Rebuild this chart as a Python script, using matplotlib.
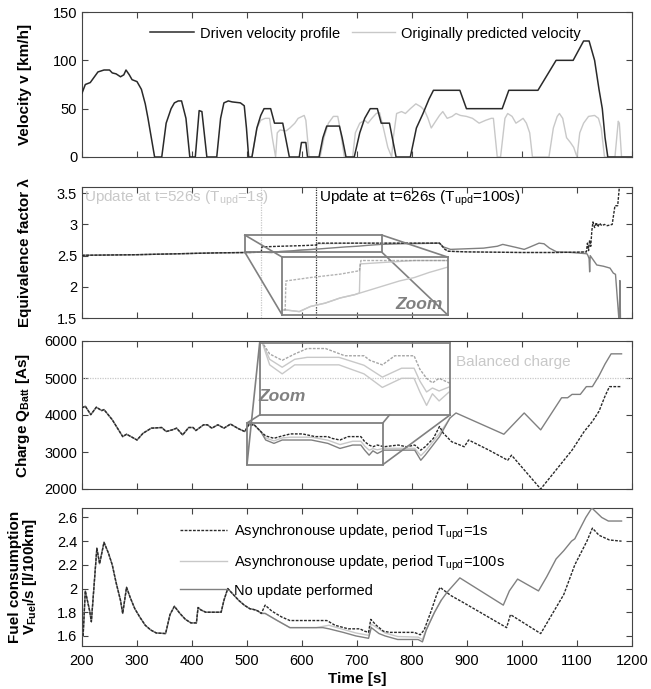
import matplotlib
matplotlib.use("Agg")
import matplotlib.pyplot as plt
import numpy as np
from matplotlib.patches import Rectangle

plt.rcParams['font.family'] = ['Liberation Sans', 'DejaVu Sans']
plt.rcParams['mathtext.fontset'] = 'custom'
plt.rcParams['mathtext.rm'] = 'Liberation Sans'
plt.rcParams['mathtext.bf'] = 'Liberation Sans:bold'

# ---- velocity panel ----
drv_t = [200, 206, 215, 229, 240, 250, 255, 262, 270, 276, 280, 286, 291, 300, 308, 315, 320, 326, 332,
         345, 353, 362, 368, 375, 381, 389, 396,
         406, 413, 418, 427,
         445, 452, 458, 466, 473, 488, 495, 499, 503,
         509, 518, 525, 531, 543, 550, 565, 577,
         595, 599, 607, 610,
         631, 638, 645, 668, 673, 680,
         695, 705, 714, 724, 737, 744, 759, 771,
         797, 808, 820, 831, 839, 887, 899, 964, 976, 1029, 1062, 1093, 1112, 1122, 1132, 1140, 1146, 1151, 1156, 1200]
drv_v = [66, 75, 77, 88, 90, 90, 87, 86, 83, 85, 90, 85, 80, 78, 70, 55, 40, 20, 0,
         0, 35, 50, 56, 58, 58, 40, 0,
         0, 48, 47, 0,
         0, 40, 56, 58, 57, 56, 53, 30, 0,
         0, 30, 43, 50, 50, 35, 35, 0,
         0, 15, 15, 0,
         0, 20, 32, 32, 20, 0,
         0, 25, 40, 50, 50, 35, 35, 0,
         0, 30, 45, 60, 69, 69, 50, 50, 69, 69, 100, 100, 120, 120, 100, 70, 50, 20, 0, 0]

pred_t = [509, 518, 525, 533, 541, 546, 552, 555, 560, 571, 578, 587, 593, 604, 607, 613,
          633, 640, 648, 657, 665, 669, 677,
          692, 697, 705, 714, 720, 727, 735, 741, 748, 756, 763,
          766, 772, 781, 788, 797, 807, 816, 823, 829, 835, 843, 850, 856, 864, 873, 880, 888,
          899, 910, 922, 934, 944, 948, 955, 961, 969, 974, 982, 989, 997, 1002, 1008, 1014, 1019,
          1049, 1057, 1064, 1068, 1074, 1081, 1088, 1094, 1100, 1105, 1112, 1121, 1132, 1139, 1144, 1150,
          1169, 1175, 1177, 1181, 1200]
pred_v = [0, 30, 38, 40, 40, 20, 0, 25, 28, 27, 30, 35, 40, 43, 38, 0,
          0, 20, 35, 42, 42, 30, 0,
          0, 25, 35, 38, 35, 40, 45, 46, 30, 10, 0,
          20, 45, 47, 45, 50, 55, 52, 48, 40, 30, 37, 43, 47, 40, 42, 45, 43,
          42, 40, 35, 38, 40, 40, 0, 0, 40, 45, 42, 35, 38, 40, 35, 25, 0,
          0, 30, 42, 45, 40, 20, 15, 10, 0, 25, 35, 42, 43, 40, 30, 0,
          0, 37, 35, 0, 0]

# ---- equivalence factor panel ----
lam_com_t = [200, 250, 300, 350, 400, 450, 500, 526]
lam_com = [2.505, 2.51, 2.515, 2.525, 2.535, 2.545, 2.55, 2.555]
lam_no_t = [545, 560, 580, 600, 620, 650, 680, 700, 720, 744, 780, 820, 850, 857, 870, 900, 930, 955, 965,
            975, 990, 1004, 1015, 1031, 1040, 1050, 1063, 1090, 1118, 1120, 1122, 1123, 1124, 1136, 1148,
            1160, 1166, 1170, 1176, 1177, 1178, 1179]
lam_no = [2.55, 2.565, 2.575, 2.59, 2.6, 2.62, 2.64, 2.65, 2.665, 2.68, 2.69, 2.695, 2.70, 2.64, 2.60, 2.61,
          2.62, 2.65, 2.68, 2.66, 2.63, 2.60, 2.64, 2.70, 2.69, 2.62, 2.56, 2.55, 2.53, 2.50, 2.45, 2.24, 2.50,
          2.35, 2.33, 2.30, 2.22, 2.20, 1.50, 1.50, 2.10, 1.50]
lam_1s_t = [527, 560, 600, 626, 628, 700, 800, 850, 860, 866, 900, 1000, 1060, 1100, 1117, 1119, 1121, 1123,
            1125, 1127, 1129, 1132, 1135, 1138, 1141, 1145, 1150, 1155, 1164, 1169, 1174, 1177]
lam_1s = [2.64, 2.65, 2.66, 2.67, 2.70, 2.70, 2.70, 2.70, 2.60, 2.57, 2.56, 2.55, 2.55, 2.555, 2.56, 2.70,
          2.58, 2.75, 2.65, 2.90, 3.04, 2.95, 3.03, 2.96, 3.02, 2.98, 3.0, 2.98, 3.0, 3.30, 3.30, 3.6]
lam_100s_t = [545, 560, 580, 600, 620, 626, 627, 700, 800, 850, 860, 866, 900, 1000, 1060, 1117]
lam_100s = [2.55, 2.565, 2.575, 2.59, 2.6, 2.605, 2.69, 2.70, 2.70, 2.70, 2.60, 2.57, 2.56, 2.55, 2.55, 2.56]

# ---- battery charge panel ----
q_com_t = [200, 206, 216, 226, 236, 240, 255, 274, 281, 289, 300, 311, 326, 345, 353, 364, 372, 383, 394,
           402, 407, 421, 428, 436, 447, 458, 470, 485, 496, 503, 513, 525]
q_com = [4192, 4238, 4009, 4210, 4119, 4146, 3872, 3416, 3480, 3416, 3324, 3507, 3644, 3662, 3553, 3598,
         3644, 3461, 3662, 3662, 3580, 3735, 3735, 3644, 3735, 3644, 3754, 3626, 3553, 3735, 3735, 3553]
q_1s_t = [534, 549, 564, 579, 601, 624, 647, 654, 669, 684, 707, 714, 722, 729, 737, 749, 775, 790, 805,
          816, 824, 839, 850, 857, 872, 895, 903, 940, 974, 981, 1034, 1091, 1113, 1128, 1140, 1151, 1159, 1181]
q_1s = [3434, 3370, 3434, 3489, 3489, 3416, 3416, 3370, 3324, 3416, 3416, 3279, 3188, 3142, 3188, 3142,
        3188, 3142, 3188, 3050, 3142, 3370, 3690, 3507, 3279, 3142, 3324, 3050, 2777, 2914, 2000, 3050,
        3553, 3827, 4101, 4512, 4767, 4767]
q_no_t = [534, 549, 564, 579, 617, 647, 669, 692, 707, 714, 722, 729, 737, 749, 805, 816, 824, 850, 869,
          880, 967, 1004, 1034, 1072, 1083, 1091, 1106, 1117, 1128, 1140, 1151, 1162, 1181]
q_no = [3324, 3233, 3324, 3324, 3324, 3233, 3096, 3188, 3188, 3050, 2914, 3032, 2959, 3050, 3050, 2777,
        2914, 3416, 3918, 4055, 3480, 4055, 3598, 4466, 4466, 4557, 4557, 4767, 4767, 5060, 5379, 5653, 5653]
q_100s_t = [534, 549, 564, 579, 617, 647, 669, 692, 707, 714, 722, 729, 737, 749, 805, 816, 824, 850, 869]
q_100s = [3380, 3300, 3380, 3400, 3400, 3320, 3200, 3290, 3290, 3160, 3050, 3090, 3060, 3100, 3100, 2900,
          3020, 3500, 3918]
q_balanced = 5000

# ---- fuel consumption panel ----
f_com_t = [202, 206, 214, 217, 227, 232, 240, 248, 255, 262, 270, 274, 281, 288, 296, 305, 315, 325, 335,
           352, 360, 368, 378, 388, 398, 408, 411, 416, 425, 453, 458, 465, 475, 485, 495, 505, 515, 520, 526]
f_com = [1.60, 1.98, 1.81, 1.72, 2.34, 2.21, 2.39, 2.30, 2.20, 2.05, 1.90, 1.79, 2.01, 1.92, 1.83, 1.76,
         1.69, 1.65, 1.625, 1.62, 1.78, 1.85, 1.79, 1.74, 1.71, 1.71, 1.84, 1.82, 1.80, 1.80, 1.90, 2.0,
         1.95, 1.90, 1.86, 1.83, 1.82, 1.81, 1.79]
f_1s_t = [533, 545, 563, 578, 645, 649, 660, 684, 705, 714, 721, 725, 735, 748, 760, 804, 815, 822, 834,
          845, 851, 871, 894, 972, 979, 1034, 1076, 1096, 1118, 1128, 1140, 1159, 1181]
f_1s = [1.86, 1.81, 1.76, 1.73, 1.73, 1.72, 1.69, 1.66, 1.66, 1.64, 1.63, 1.74, 1.69, 1.64, 1.63, 1.63,
        1.61, 1.65, 1.80, 1.95, 2.01, 1.94, 1.88, 1.67, 1.78, 1.62, 1.95, 2.20, 2.40, 2.51, 2.45, 2.41, 2.40]
f_no_t = [533, 555, 578, 638, 649, 675, 698, 721, 726, 740, 751, 774, 811, 819, 826, 841, 853, 864, 887,
          966, 977, 992, 1030, 1045, 1062, 1076, 1090, 1096, 1116, 1127, 1145, 1157, 1181]
f_no = [1.79, 1.73, 1.67, 1.67, 1.66, 1.63, 1.60, 1.58, 1.67, 1.62, 1.60, 1.57, 1.57, 1.55, 1.65, 1.80,
        1.90, 1.97, 2.09, 1.86, 1.98, 2.08, 1.98, 2.10, 2.25, 2.32, 2.40, 2.42, 2.60, 2.68, 2.60, 2.57, 2.57]
f_100s_t = [533, 555, 578, 626, 649, 675, 698, 721, 726, 751, 774, 811, 819, 826, 841, 853]
f_100s = [1.79, 1.73, 1.67, 1.67, 1.69, 1.655, 1.625, 1.605, 1.70, 1.625, 1.595, 1.59, 1.57, 1.66, 1.80, 1.90]

C_DARK = '#2a2a2a'
C_MID = '#808080'
C_LIGHT = '#c8c8c8'
DOT = (0, (2, 1))
FS = 10.5

fig = plt.figure(figsize=(6.51, 6.89), dpi=100)
L, W = 82 / 651, 550 / 651
ax1 = fig.add_axes([L, 1 - 157 / 689, W, 145 / 689])
ax2 = fig.add_axes([L, 1 - 318 / 689, W, 131 / 689])
ax3 = fig.add_axes([L, 1 - 489 / 689, W, 148 / 689])
ax4 = fig.add_axes([L, 1 - 646 / 689, W, 138 / 689])

for ax in (ax1, ax2, ax3, ax4):
    ax.set_xlim(200, 1200)
    ax.set_xticks(np.arange(200, 1201, 100))
    ax.tick_params(direction='in', top=True, right=True, labelsize=FS, length=4, color='#444')
    ax.tick_params(axis='x', pad=6)
    for s in ax.spines.values():
        s.set_color('#444')
        s.set_linewidth(0.8)
for ax in (ax1, ax2, ax3):
    ax.tick_params(labelbottom=False)


def cat(a, b):
    return list(a) + list(b)


# velocity
ax1.plot(pred_t, pred_v, color=C_LIGHT, lw=1.0, label='Originally predicted velocity', zorder=2)
ax1.plot(drv_t, drv_v, color=C_DARK, lw=1.1, label='Driven velocity profile', zorder=3)
ax1.set_ylim(0, 150)
ax1.set_yticks([0, 50, 100, 150])
h, l = ax1.get_legend_handles_labels()
ax1.legend(h[::-1], l[::-1], ncol=2, frameon=False, fontsize=FS, loc='upper left',
           bbox_to_anchor=(0.1, 0.99), handlelength=3.0, handletextpad=0.4, columnspacing=0.8)
ax1.set_ylabel('Velocity v [km/h]', fontsize=11, fontweight='bold')

# equivalence factor
ax2.plot(cat(lam_com_t, lam_100s_t), cat(lam_com, lam_100s), color=C_LIGHT, lw=1.0, zorder=2)
ax2.plot(cat(lam_com_t, lam_no_t), cat(lam_com, lam_no), color=C_MID, lw=1.0, zorder=3)
ax2.plot(cat(lam_com_t, lam_1s_t), cat(lam_com, lam_1s), color=C_DARK, lw=1.0, ls=DOT, zorder=4)
ax2.axvline(526, color=C_LIGHT, lw=0.9, ls=(0, (1, 1)))
ax2.axvline(626, color=C_DARK, lw=0.9, ls=(0, (1, 1)))
ax2.text(203, 3.57, 'Update at t=526s (T$_{\\rm upd}$=1s)', color=C_LIGHT, fontsize=11, va='top')
ax2.text(630, 3.57, 'Update at t=626s (T$_{\\rm upd}$=100s)', color='black', fontsize=11, va='top')
ax2.set_ylim(1.5, 3.6)
ax2.set_yticks([1.5, 2, 2.5, 3, 3.5])
ax2.set_yticklabels(['1.5', '2', '2.5', '3', '3.5'])
ax2.set_ylabel('Equivalence factor \u03bb', fontsize=11, fontweight='bold')

# zoom box on lambda
zx0, zx1, zy0, zy1 = 496, 745, 2.556, 2.83
bx0, bx1, by0, by1 = 564, 865, 1.548, 2.476
ax2.add_patch(Rectangle((zx0, zy0), zx1 - zx0, zy1 - zy0, fill=False, ec=C_MID, lw=1.3, zorder=5))
for (a, b), (c, d) in [((zx0, zy1), (bx0, by1)), ((zx0, zy0), (bx0, by0)),
                       ((zx1, zy1), (bx1, by1)), ((zx1, zy0), (bx1, by0))]:
    ax2.plot([a, c], [b, d], color=C_MID, lw=1.2, zorder=5)
ins2 = ax2.inset_axes([bx0, by0, bx1 - bx0, by1 - by0], transform=ax2.transData)
ins2.patch.set_alpha(0)
ins2.plot(cat(lam_com_t, lam_100s_t), cat(lam_com, lam_100s), color=C_LIGHT, lw=1.0)
ins2.plot(cat(lam_com_t, lam_no_t), cat(lam_com, lam_no), color=C_LIGHT, lw=1.0)
ins2.plot(cat(lam_com_t, lam_1s_t), cat(lam_com, lam_1s), color=C_MID, lw=1.0, ls=DOT, alpha=0.6)
ins2.set_xlim(522, 745)
ins2.set_ylim(2.54, 2.71)
ins2.set_xticks([])
ins2.set_yticks([])
for s in ins2.spines.values():
    s.set_color(C_MID)
    s.set_linewidth(1.3)
ax2.text(812, 1.72, 'Zoom', color=C_MID, fontsize=12.5, fontweight='bold', style='italic', ha='center', va='center')

# battery charge
ax3.axhline(q_balanced, color=C_LIGHT, lw=0.9, ls=(0, (1, 1)))
ax3.text(985, 5430, 'Balanced charge', color=C_LIGHT, fontsize=11, ha='center', va='center')
ax3.plot(cat(q_com_t, q_no_t), cat(q_com, q_no), color=C_MID, lw=1.0, zorder=3)
ax3.plot(cat(q_com_t, q_100s_t), cat(q_com, q_100s), color=C_LIGHT, lw=1.0, zorder=2)
ax3.plot(cat(q_com_t, q_1s_t), cat(q_com, q_1s), color=C_DARK, lw=1.0, ls=DOT, zorder=4)
ax3.set_ylim(2000, 6000)
ax3.set_yticks([2000, 3000, 4000, 5000, 6000])
ax3.set_ylabel('Charge Q$_{\\mathbf{Batt}}$ [As]', fontsize=11, fontweight='bold')

qx0, qx1, qy0, qy1 = 500, 747, 2658, 3784
cx0, cx1, cy0, cy1 = 523, 869, 4000, 5946
ax3.add_patch(Rectangle((qx0, qy0), qx1 - qx0, qy1 - qy0, fill=False, ec=C_MID, lw=1.3, zorder=5))
for (a, b), (c, d) in [((qx0, qy1), (cx0, cy0)), ((qx0, qy0), (cx0, cy1)),
                       ((qx1, qy1), (759, cy0)), ((qx1, qy0), (cx1, cy0))]:
    ax3.plot([a, c], [b, d], color=C_MID, lw=1.2, zorder=5)
ins3 = ax3.inset_axes([cx0, cy0, cx1 - cx0, cy1 - cy0], transform=ax3.transData)
ins3.patch.set_alpha(0)
ins3.plot(cat(q_com_t, q_no_t), cat(q_com, q_no), color=C_LIGHT, lw=1.0)
ins3.plot(cat(q_com_t, q_100s_t), cat(q_com, q_100s), color=C_LIGHT, lw=1.0)
ins3.plot(cat(q_com_t, q_1s_t), cat(q_com, q_1s), color=C_MID, lw=1.0, ls=DOT, alpha=0.7)
ins3.set_xlim(522, 750)
ins3.set_ylim(2817, 3545)
ins3.set_xticks([])
ins3.set_yticks([])
for s in ins3.spines.values():
    s.set_color(C_MID)
    s.set_linewidth(1.3)
ax3.text(564, 4500, 'Zoom', color=C_MID, fontsize=12.5, fontweight='bold', style='italic', ha='center', va='center')

# fuel consumption
ax4.plot(cat(f_com_t, f_1s_t), cat(f_com, f_1s), color=C_DARK, lw=1.0, ls=DOT, zorder=4,
         label='Asynchronouse update, period T$_{\\rm upd}$=1s')
ax4.plot(cat(f_com_t, f_100s_t), cat(f_com, f_100s), color=C_LIGHT, lw=1.0, zorder=2,
         label='Asynchronouse update, period T$_{\\rm upd}$=100s')
ax4.plot(cat(f_com_t, f_no_t), cat(f_com, f_no), color=C_MID, lw=1.0, zorder=3,
         label='No update performed')
ax4.set_ylim(1.515, 2.68)
ax4.set_yticks([1.6, 1.8, 2.0, 2.2, 2.4, 2.6])
ax4.set_yticklabels(['1.6', '1.8', '2', '2.2', '2.4', '2.6'])
ax4.legend(frameon=False, fontsize=FS, loc='upper left', bbox_to_anchor=(0.155, 0.99),
           handlelength=3.2, handletextpad=0.5, labelspacing=0.75)
ax4.set_ylabel('Fuel consumption\nV$_{\\mathbf{Fuel}}$/s [l/100km]', fontsize=11, fontweight='bold',
               linespacing=0.95)
ax4.set_xlabel('Time [s]', fontsize=11, fontweight='bold', labelpad=3)

for ax in (ax1, ax2, ax3):
    ax.yaxis.set_label_coords(-0.09, 0.5)
ax4.yaxis.set_label_coords(-0.078, 0.5)

fig.savefig('out.png', dpi=100)
